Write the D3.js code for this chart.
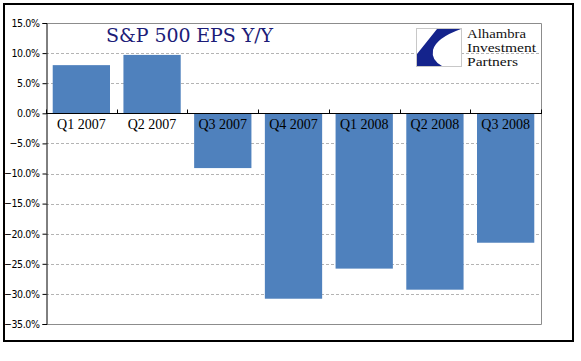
<!DOCTYPE html>
<html><head><meta charset="utf-8">
<script src="https://cdn.jsdelivr.net/npm/d3@7/dist/d3.min.js"></script>
<style>body{margin:0;background:#fff}svg{display:block}</style>
</head><body><svg id="c" width="581" height="361"></svg>
<script>
const categories = ["Q1 2007","Q2 2007","Q3 2007","Q4 2007","Q1 2008","Q2 2008","Q3 2008"];
const epsYoY = [8.0, 9.7, -9.1, -30.8, -25.8, -29.3, -21.5];
const yTicks = [15,10,5,0,-5,-10,-15,-20,-25,-30,-35];
const title = "S&P 500 EPS Y/Y";
const logoLines = ["Alhambra","Investment","Partners"];
const logoWidths = [59, 69, 51];

const svg = d3.select("#c");
const L=46, R=541, T=23, B=324;
svg.append("rect").attr("x",4).attr("y",4).attr("width",569).attr("height",337)
  .attr("fill","#fff").attr("stroke","#000").attr("stroke-width",2);

const x = d3.scaleBand().domain(categories).range([L,R]).paddingInner(0.19).paddingOuter(0.095);
const y = d3.scaleLinear().domain([-35,15]).range([B,T]);

// gridlines
svg.append("g").selectAll("line").data(yTicks.filter(t=>t!==15&&t!==0&&t!==-35)).join("line")
  .attr("x1",L).attr("x2",R).attr("y1",d=>Math.round(y(d))+0.5).attr("y2",d=>Math.round(y(d))+0.5)
  .attr("stroke","#b4b4b4").attr("stroke-dasharray","3,2");

// plot border (top, right, bottom)
svg.append("path").attr("d",`M${L},${T+0.5}H${R+0.5}V${B+0.5}H${L}`)
  .attr("fill","none").attr("stroke","#8c8c8c").attr("stroke-width",1);

// bars
svg.append("g").selectAll("rect").data(epsYoY).join("rect")
  .attr("x",(d,i)=>x(categories[i])).attr("width",x.bandwidth())
  .attr("y",d=>y(Math.max(0,d))).attr("height",d=>Math.abs(y(d)-y(0)))
  .attr("fill","#4f81bd");

// y axis
const ya = svg.append("g").attr("transform",`translate(${L+0.5},0)`)
  .call(d3.axisLeft(y).tickValues(yTicks).tickSize(4).tickPadding(3).tickFormat(d=>d3.format(".1f")(d)+"%"));
ya.selectAll("path,line").attr("stroke","#000");
ya.selectAll("text").attr("font-family","'DejaVu Sans Condensed','Liberation Sans',sans-serif")
  .attr("font-size","10.5px").attr("fill","#000").attr("letter-spacing","-0.4px");

// x axis at 0
const y0 = Math.round(y(0))+0.5;
svg.append("line").attr("x1",L).attr("x2",R+1).attr("y1",y0).attr("y2",y0).attr("stroke","#000");
const step = x.step();
const bounds = categories.map((c,i)=>L + i*step).concat([R]);
svg.append("g").selectAll("line").data(bounds).join("line")
  .attr("x1",d=>Math.round(d)+0.5).attr("x2",d=>Math.round(d)+0.5).attr("y1",y0).attr("y2",y0-4)
  .attr("stroke","#000");
svg.append("g").selectAll("text").data(categories).join("text")
  .attr("x",d=>x(d)+x.bandwidth()/2).attr("y",y0+15)
  .attr("text-anchor","middle").attr("font-family","'Liberation Serif','Times New Roman',serif")
  .attr("font-size","14px").attr("fill","#000").text(d=>d);

// title
svg.append("text").attr("x",106).attr("y",42).attr("font-family","'DejaVu Serif','Liberation Serif',serif")
  .attr("font-size","19px").attr("fill","#1c1c78").attr("textLength",167).text(title);

// logo
const lg = svg.append("g");
lg.append("rect").attr("x",416.5).attr("y",28.5).attr("width",45).attr("height",38)
  .attr("fill","#fff").attr("stroke","#c8c8c8");
lg.append("path").attr("d","M437,29 L461,29 Q436,38 433,50 Q431,60 442,66 L417,66 L417,54 Z")
  .attr("fill","#14238c");
lg.selectAll("text").data(logoLines).join("text")
  .attr("x",467).attr("y",(d,i)=>37.5+i*14)
  .attr("font-family","'Liberation Serif','Times New Roman',serif").attr("font-size","13px")
  .attr("textLength",(d,i)=>logoWidths[i]).attr("lengthAdjust","spacingAndGlyphs")
  .attr("fill","#111").text(d=>d);
</script></body></html>
